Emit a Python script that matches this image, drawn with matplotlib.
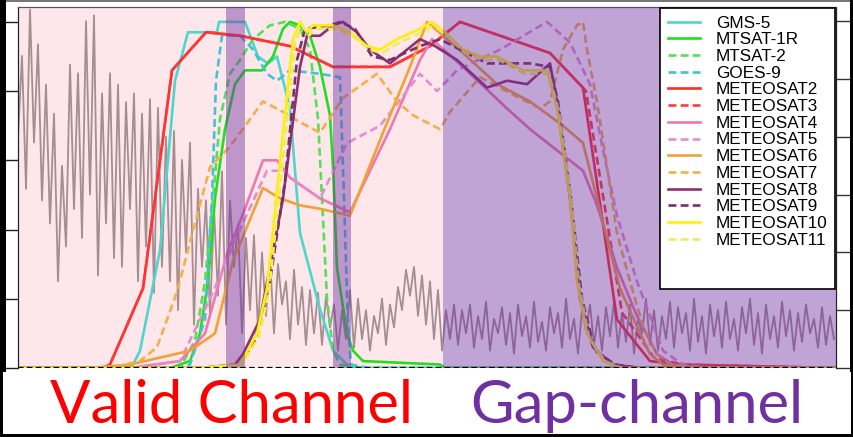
import numpy as np
import matplotlib
matplotlib.use("Agg")
import matplotlib.pyplot as plt
from matplotlib.patches import Rectangle
from matplotlib.lines import Line2D

# ---------------- data (x: spectral position index, y: relative response) ----------------
gms5_x = [0,100,115,122,142,157,170,199,201,227,240,250,259,272,282,302,315,329,345,818]
gms5_y = [0,0,0.01,0.05,0.34,0.83,0.97,0.97,1.0,1.0,0.90,0.88,0.90,0.75,0.39,0.17,0.05,0.01,0,0]

mtsat1r_x = [0,152,172,182,190,197,207,217,227,244,255,265,272,282,292,302,312,315,319,329,335,345,422,427,818]
mtsat1r_y = [0,0,0.02,0.10,0.25,0.49,0.69,0.82,0.86,0.86,0.90,0.98,1.0,0.99,0.96,0.87,0.73,0.58,0.29,0.10,0.05,0.02,0.01,0,0]

mtsat2_x = [0,162,177,187,195,202,212,222,235,252,267,282,292,300,304,309,315,322,342,818]
mtsat2_y = [0,0,0.08,0.25,0.49,0.72,0.85,0.89,0.95,0.99,1.0,0.98,0.92,0.72,0.49,0.20,0.05,0.01,0,0]

goes9_x = [0,160,172,187,194,198,204,222,235,249,259,272,302,322,326,330,333,350,818]
goes9_y = [0,0,0.01,0.14,0.49,0.83,0.96,0.96,0.92,0.85,0.83,0.86,0.85,0.84,0.49,0.12,0.01,0,0]

met2_x = [0,85,92,125,154,188,222,272,315,372,412,442,532,565,599,632,662,818]
met2_y = [0,0,0.01,0.23,0.86,0.97,0.96,0.93,0.87,0.87,0.93,1.0,0.91,0.81,0.14,0.02,0.01,0]

met3_x = [0,85,92,125,154,188,222,272,315,372,412,442,532,568,604,636,664,818]
met3_y = [0,0,0.01,0.23,0.86,0.97,0.96,0.93,0.87,0.87,0.93,1.0,0.91,0.80,0.16,0.03,0.01,0]

met4_x = [0,112,162,187,209,227,245,259,272,302,332,372,402,414,445,489,512,565,579,599,619,639,655,680,818]
met4_y = [0,0,0.02,0.10,0.33,0.46,0.60,0.60,0.55,0.49,0.45,0.69,0.89,0.95,0.87,0.75,0.69,0.57,0.47,0.29,0.15,0.04,0.01,0,0]

met5_x = [0,112,162,192,222,249,265,282,302,329,362,402,419,439,482,529,552,572,585,599,619,632,645,665,692,818]
met5_y = [0,0,0.02,0.20,0.40,0.57,0.57,0.53,0.49,0.65,0.70,0.85,0.80,0.86,0.92,1.0,0.94,0.82,0.63,0.44,0.25,0.15,0.05,0.01,0,0]

met6_x = [0,72,112,172,197,215,245,262,282,302,332,365,392,409,445,479,512,545,565,579,592,602,619,632,645,672,818]
met6_y = [0,0,0.01,0.05,0.10,0.31,0.52,0.49,0.47,0.46,0.44,0.68,0.87,1.0,0.91,0.82,0.77,0.70,0.65,0.49,0.34,0.23,0.12,0.04,0.01,0,0]

met7_x = [0,92,122,139,159,179,192,212,245,265,282,302,325,359,379,395,422,432,462,495,522,532,545,559,565,569,579,589,599,612,625,639,652,682,818]
met7_y = [0,0,0.02,0.06,0.22,0.44,0.58,0.64,0.77,0.74,0.71,0.68,0.78,0.85,0.77,0.73,0.69,0.74,0.84,0.79,0.75,0.77,0.92,0.99,1.0,0.92,0.77,0.58,0.39,0.25,0.12,0.04,0.01,0,0]

met8_x = [0,182,217,225,242,265,282,289,302,315,325,339,352,372,402,417,439,469,489,509,532,539,552,562,575,595,622,818]
met8_y = [0,0,0.01,0.04,0.14,0.49,0.87,0.96,0.96,0.99,1.0,0.97,0.92,0.88,0.95,0.93,0.89,0.81,0.83,0.82,0.88,0.77,0.49,0.20,0.06,0.01,0,0]

met9_x = [0,182,222,237,252,267,279,287,312,322,337,354,372,402,422,442,469,512,532,540,553,564,577,597,622,818]
met9_y = [0,0,0.01,0.08,0.25,0.54,0.89,0.98,0.99,1.0,0.98,0.90,0.89,0.93,0.95,0.92,0.88,0.88,0.87,0.77,0.49,0.20,0.05,0.01,0,0]

met10_x = [0,182,222,239,249,265,275,282,289,295,315,332,349,362,379,402,414,427,445,462,479,505,529,539,552,559,569,585,602,818]
met10_y = [0,0,0.01,0.10,0.23,0.68,0.95,1.0,0.97,0.99,0.99,0.97,0.93,0.92,0.95,0.98,1.0,0.97,0.92,0.90,0.90,0.86,0.86,0.75,0.49,0.25,0.10,0.02,0,0]

met11_x = [0,182,224,241,251,267,277,284,291,297,317,334,351,364,381,404,416,429,447,464,481,507,531,541,554,561,571,587,604,818]
met11_y = [0,0,0.01,0.09,0.22,0.66,0.94,0.99,0.96,0.98,0.98,0.96,0.92,0.91,0.94,0.97,0.99,0.96,0.91,0.89,0.89,0.85,0.85,0.74,0.48,0.24,0.09,0.02,0,0]

# atmospheric transmission (right axis), sampled every 4 index units from 0
trans = [0.80,1.08,0.62,1.24,0.78,1.12,0.58,0.98,0.50,0.88,0.30,0.70,0.42,
         1.05,0.55,1.02,0.45,1.20,0.60,1.22,0.32,0.95,0.50,1.02,0.38,0.98,
         0.35,0.92,0.55,0.95,0.30,0.88,0.42,0.93,0.26,0.90,0.35,0.80,
         0.30,0.82,0.20,0.72,0.40,0.78,0.15,0.62,0.35,0.58,0.18,0.55,
         0.25,0.68,0.15,0.58,0.35,0.50,0.12,0.45,0.20,0.46,0.13,0.40,
         0.18,0.38,0.12,0.36,0.22,0.30,0.10,0.34,0.15,0.28,0.08,0.27,
         0.12,0.26,0.08,0.25,0.14,0.22,0.06,0.20,0.10,0.27,0.07,0.24,
         0.10,0.20,0.06,0.18,0.12,0.24,0.08,0.22,0.14,0.28,0.20,0.34,
         0.25,0.35,0.18,0.32,0.15,0.30,0.10,0.27,0.06,0.20,0.10,0.22,
         0.08,0.20,0.12,0.22,0.07,0.18,0.10,0.23,0.06,0.17,0.12,0.21,0.08,0.19,0.05,0.22,0.11,0.18,0.07,0.23,
         0.09,0.16,0.06,0.21,0.12,0.19,0.07,0.24,0.10,0.17,0.05,0.20,0.13,0.22,0.08,0.18,0.06,0.21,0.11,0.23,
         0.07,0.19,0.09,0.22,0.05,0.17,0.12,0.24,0.08,0.20,0.06,0.18,0.10,0.23,0.07,0.21,0.12,0.19,0.06,0.24,
         0.09,0.18,0.05,0.22,0.11,0.20,0.07,0.23,0.10,0.17,0.06,0.21,0.12,0.24,0.08,0.19,0.05,0.22,0.10,0.18,
         0.07,0.23,0.11,0.20,0.06,0.19,0.09,0.22,0.12,0.17,0.07,0.21,0.08,0.18,0.10]
trans_x = np.arange(len(trans)) * 4

valid_region = (0, 425)
gap_region = (425, 818)
narrow_gaps = [(208, 227), (315, 333)]

series = [
    ("GMS-5", gms5_x, gms5_y, "#4fd6cb", "-"),
    ("MTSAT-1R", mtsat1r_x, mtsat1r_y, "#22dd22", "-"),
    ("MTSAT-2", mtsat2_x, mtsat2_y, "#55e055", "--"),
    ("GOES-9", goes9_x, goes9_y, "#45c2d6", "--"),
    ("METEOSAT2", met2_x, met2_y, "#ff2a2a", "-"),
    ("METEOSAT3", met3_x, met3_y, "#ff3a3a", "--"),
    ("METEOSAT4", met4_x, met4_y, "#ee78b0", "-"),
    ("METEOSAT5", met5_x, met5_y, "#e090d0", "--"),
    ("METEOSAT6", met6_x, met6_y, "#f0a235", "-"),
    ("METEOSAT7", met7_x, met7_y, "#f3b048", "--"),
    ("METEOSAT8", met8_x, met8_y, "#8e2f72", "-"),
    ("METEOSAT9", met9_x, met9_y, "#7a3066", "--"),
    ("METEOSAT10", met10_x, met10_y, "#ffee10", "-"),
    ("METEOSAT11", met11_x, met11_y, "#eeee50", "--"),
]

# ---------------- figure ----------------
W, H = 854, 437
fig = plt.figure(figsize=(W / 100, H / 100), dpi=100)
fig.patch.set_facecolor("white")

ax_l, ax_r, ax_t, ax_b = 18, 836, 7, 368
ax2 = fig.add_axes([ax_l / W, 1 - ax_b / H, (ax_r - ax_l) / W, (ax_b - ax_t) / H])
ax = ax2.twinx()
ax.set_zorder(ax2.get_zorder() + 1)
ax.patch.set_visible(False)

# back axes: pink background + transmission
ax2.set_facecolor("white")
ax2.axvspan(*valid_region, color="#fde7eb", lw=0, zorder=0)
ax2.plot(trans_x, trans, color="#a58d92", lw=1.3, zorder=1)
ax2.set_xlim(0, 818)
ax2.set_ylim(0, 1.249)
ax2.yaxis.tick_right()
ax2.set_yticks(np.arange(0, 1.21, 0.2))
ax2.tick_params(axis="y", direction="out", length=12, width=1, color="#333333",
                labelright=False, labelleft=False, left=False, right=True)
ax2.set_xticks([])

# front axes: response curves
for name, xs, ys, col, ls in series:
    ax.plot(xs, ys, color=col, lw=1.9, ls=ls,
            dashes=(3, 1.6) if ls == "--" else (None, None), label=name, zorder=2)

for a, b in narrow_gaps + [gap_region]:
    ax.axvspan(a, b, color="#7030a0", alpha=0.44, lw=0, zorder=3)

ax.axhline(0, color="black", lw=1.6, ls=(0, (2.5, 1.5)), zorder=6)
ax.set_xlim(0, 818)
ax.set_ylim(0, 1.043)
ax.yaxis.tick_left()
ax.set_yticks(np.arange(0, 1.01, 0.2))
ax.tick_params(axis="y", direction="out", length=12, width=1, color="#222222",
               labelleft=False, labelright=False, left=True, right=False)
ax.set_xticks([])

for a in (ax, ax2):
    a.spines["bottom"].set_visible(False)
    a.spines["top"].set_color("#555555")
    a.spines["left"].set_color("#222222")
    a.spines["right"].set_color("#222222")

handles, labels = ax.get_legend_handles_labels()
for _ in range(2):
    handles.append(Line2D([], [], color="none"))
    labels.append(" ")
leg = ax.legend(handles, labels, loc="upper right", bbox_to_anchor=(1.0, 1.0),
                borderaxespad=0.05, frameon=True, fancybox=False, framealpha=1,
                edgecolor="black", handlelength=1.9, handletextpad=0.9,
                borderpad=0.45, labelspacing=0.1,
                prop={"family": "Liberation Sans", "size": 12.3})
leg.get_frame().set_linewidth(1.2)
leg.set_zorder(10)

# bottom labels
fig.text(50 / W, 1 - 423 / H, "Valid Channel", color="#ff0000",
         fontsize=43, family="Lato", ha="left", va="baseline")
fig.text(470 / W, 1 - 423 / H, "Gap-channel", color="#7030a0",
         fontsize=43, family="Lato", ha="left", va="baseline")

# frame decorations
def px_rect(x0, y0, x1, y1, color):
    fig.add_artist(Rectangle((x0 / W, 1 - y1 / H), (x1 - x0) / W, (y1 - y0) / H,
                             transform=fig.transFigure, color=color, lw=0, zorder=20))

px_rect(0, 0, 6, 372, "black")
px_rect(0, 372, 3, 437, "black")
px_rect(850, 0, 854, 372, "black")
px_rect(851, 372, 854, 437, "black")
px_rect(0, 434, 854, 437, "black")
px_rect(6, 0, 850, 2, "#777777")

fig.savefig("out.png", dpi=100)
